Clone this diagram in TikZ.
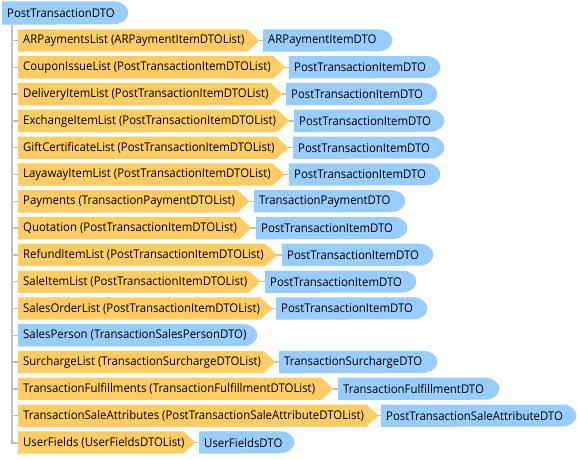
\documentclass[tikz,border=0pt]{standalone}
\usepackage{fontspec}
\setmainfont{Open Sans}[FakeStretch=0.95]
\usetikzlibrary{backgrounds,calc}
\definecolor{ofill}{RGB}{255,204,102}
\definecolor{bfill}{RGB}{153,204,255}
\definecolor{lgray}{RGB}{192,192,192}
\pgfdeclarelayer{paper}
\pgfsetlayers{paper,background,main}
\tikzset{
  boxnode/.style={anchor=west, inner sep=0pt, minimum height=22pt, text=black,
    font=\fontsize{12}{14}\selectfont},
  trunkline/.style={draw=lgray, line width=2pt},
  stubline/.style={draw=lgray, line width=1.5pt},
}
\begin{document}
\begin{tikzpicture}[x=1pt,y=-1pt]
\begin{pgfonlayer}{paper}
\fill[white] (0,0) rectangle (578,459);
\end{pgfonlayer}
\useasboundingbox (0,0) rectangle (578,459);
% root
\node[boxnode, minimum height=23pt] (root) at (2,13) {\makebox[126pt][l]{\hspace{5pt}PostTransactionDTO}};
\begin{scope}[on background layer]
\fill[bfill] (root.north west) -- ([xshift=-16pt]root.north east) arc[start angle=90, end angle=-90, x radius=16pt, y radius=11.5pt] -- (root.south west) -- cycle;
\end{scope}
\coordinate (trunk) at (12,0);
% rows with orange list node and blue item node
\foreach \i/\lab/\tip/\blab/\bl/\br in {
  1/{ARPaymentsList (ARPaymentItemDTOList)}/259/{ARPaymentItemDTO}/263/392,
  2/{CouponIssueList (PostTransactionItemDTOList)}/285/{PostTransactionItemDTO}/289/440,
  3/{DeliveryItemList (PostTransactionItemDTOList)}/282/{PostTransactionItemDTO}/286/437,
  4/{ExchangeItemList (PostTransactionItemDTOList)}/289/{PostTransactionItemDTO}/294/444,
  5/{GiftCertificateList (PostTransactionItemDTOList)}/288/{PostTransactionItemDTO}/293/444,
  6/{LayawayItemList (PostTransactionItemDTOList)}/284/{PostTransactionItemDTO}/289/440,
  7/{Payments (TransactionPaymentDTOList)}/249/{TransactionPaymentDTO}/254/405,
  8/{Quotation (PostTransactionItemDTOList)}/251/{PostTransactionItemDTO}/256/407,
  9/{RefundItemList (PostTransactionItemDTOList)}/277/{PostTransactionItemDTO}/282/433,
  10/{SaleItemList (PostTransactionItemDTOList)}/260/{PostTransactionItemDTO}/265/416,
  11/{SalesOrderList (PostTransactionItemDTOList)}/272/{PostTransactionItemDTO}/276/427,
  13/{SurchargeList (TransactionSurchargeDTOList)}/275/{TransactionSurchargeDTO}/279/437,
  14/{TransactionFulfillments (TransactionFulfillmentDTOList)}/333/{TransactionFulfillmentDTO}/338/499,
  15/{TransactionSaleAttributes (PostTransactionSaleAttributeDTOList)}/378/{PostTransactionSaleAttributeDTO}/381/576,
  16/{UserFields (UserFieldsDTOList)}/195/{UserFieldsDTO}/199/294}{
  \pgfmathsetmacro\yy{40.5+(\i-1)*26.8}
  \pgfmathsetmacro\ow{\tip-12-18}
  \pgfmathsetmacro\bw{\br-\bl}
  \node[boxnode] (o\i) at (18,\yy) {\makebox[\ow pt][l]{\hspace{5pt}\lab}};
  \node[boxnode] (b\i) at (\bl,\yy) {\makebox[\bw pt][l]{\hspace{5pt}\blab}};
  \coordinate (t\i) at ([xshift=12pt]o\i.east);
  \begin{scope}[on background layer]
    \fill[ofill] (o\i.north west) -- (o\i.north east) -- (t\i) -- (o\i.south east) -- (o\i.south west) -- cycle;
    \fill[bfill] (b\i.north west) -- ([xshift=-14pt]b\i.north east) arc[start angle=90, end angle=-90, x radius=14pt, y radius=11pt] -- (b\i.south west) -- cycle;
  \end{scope}
  \draw[stubline] (t\i) -- (b\i.west);
}
% row 12: SalesPerson (blue only)
\node[boxnode] (o12) at (18,{40.5+11*26.8}) {\makebox[239pt][l]{\hspace{5pt}SalesPerson (TransactionSalesPersonDTO)}};
\begin{scope}[on background layer]
\fill[bfill] (o12.north west) -- ([xshift=-14pt]o12.north east) arc[start angle=90, end angle=-90, x radius=14pt, y radius=11pt] -- (o12.south west) -- cycle;
\end{scope}
% trunk and stubs
\draw[trunkline] (root.south -| trunk) |- (o16.west);
\foreach \i in {1,...,15}{
  \draw[stubline] (trunk |- o\i.west) -- (o\i.west);
}
\end{tikzpicture}
\end{document}
